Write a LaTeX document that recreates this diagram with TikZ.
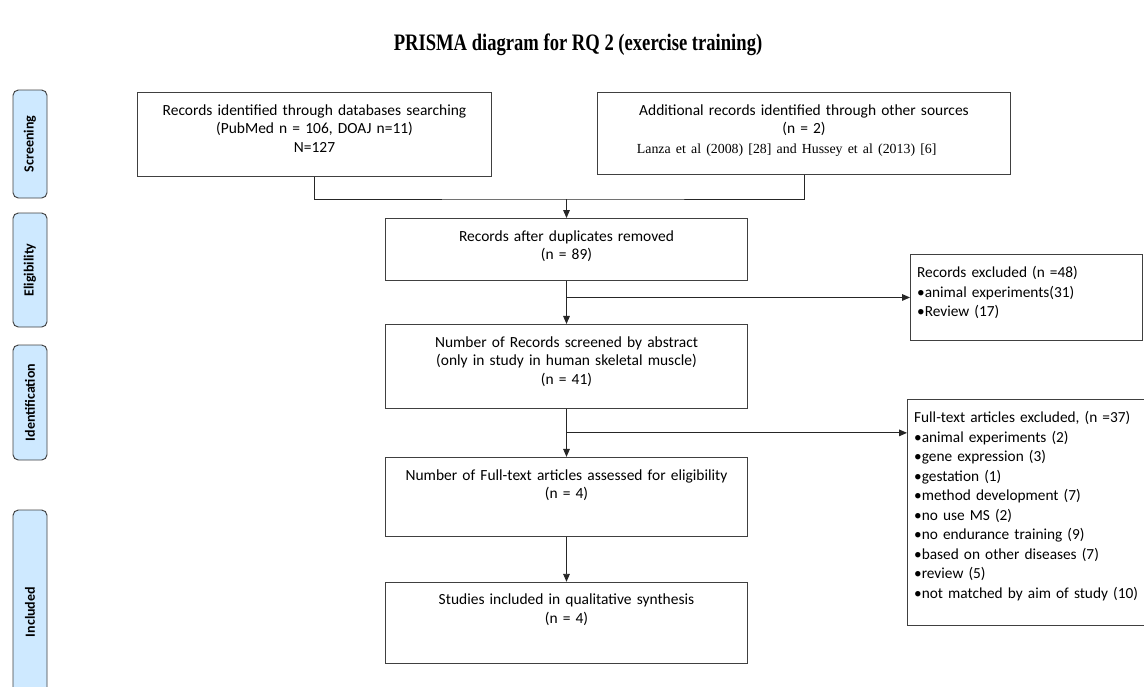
\documentclass[tikz,border=0pt]{standalone}
\usepackage{fontspec}
\setmainfont{Carlito}
\newfontfamily\serifpart{Liberation Serif}
\usetikzlibrary{arrows.meta,calc,positioning}

\definecolor{phaseblue}{RGB}{206,233,255}

\tikzset{
  flowbox/.style={draw=black!75, line width=0.7pt, text width=#1, align=center,
    inner xsep=0pt, inner ysep=0pt, text height=17pt,
    font=\fontsize{11.6}{14}\selectfont},
  exclbox/.style={draw=black!75, line width=0.7pt, text width=#1, align=left,
    inner xsep=5pt, inner ysep=0pt, text height=17.5pt,
    font=\fontsize{11.5}{14.6}\selectfont},
  phase/.style={draw=black!75, line width=0.7pt, fill=phaseblue, rounded corners=4pt,
    rotate=90, minimum height=25.5pt, inner sep=0pt,
    font=\fontsize{10.5}{12}\selectfont\bfseries},
  flow/.style={line width=0.7pt, draw=black!85},
}

\begin{document}
\begin{tikzpicture}[x=0.75pt,y=-0.75pt,>={Triangle[length=6pt,width=5pt]}]
    \useasboundingbox (0,0) rectangle (1144,686);

    \node[xscale=0.93, yscale=1.18, transform shape] (title) at (578,45)
      {\serifpart\bfseries\fontsize{15}{17}\selectfont PRISMA diagram for RQ 2 (exercise training)};

    % phases on the left
    \node[phase, minimum width=81pt] (screen) at (30,144) {Screening};
    \node[phase, minimum width=85.5pt] (elig) at (30,270) {Eligibility};
    \node[phase, minimum width=86.25pt] (ident) at (30,402.5) {Identification};
    \node[phase, minimum width=153pt] (incl) at (30,612) {Included};

    % top row
    \node[flowbox=266pt, text depth=46pt, anchor=north] (dbrec) at (314.5,92)
      {Records identified through databases searching\\(PubMed n = 106, DOAJ n=11)\\N=127};
    \node[flowbox=310pt, text depth=44.5pt, anchor=north] (otherrec) at (804,92)
      {Additional records identified through other sources\\(n = 2)\\[1pt]
       {\serifpart\fontsize{10.4}{12}\selectfont Lanza et al (2008) [28] and Hussey et al (2013) [6]\kern26pt}};

    % main column
    \node[flowbox=272pt, text depth=29.5pt, anchor=north] (dedup) at (566.5,218)
      {Records after duplicates removed\\(n = 89)};
    \node[flowbox=272pt, text depth=46pt, below=32.25pt of dedup] (abstr)
      {Number of Records screened by abstract\\(only in study in human skeletal muscle)\\(n = 41)};
    \node[flowbox=272pt, text depth=42.25pt, below=36pt of abstr] (fulltext)
      {Number of Full-text articles assessed for eligibility\\(n = 4)};
    \node[flowbox=272pt, text depth=43.75pt, below=33.75pt of fulltext] (included)
      {Studies included in qualitative synthesis\\(n = 4)};

    % exclusions
    \node[exclbox=164pt, text depth=47pt, anchor=north west] (excl1) at (910,254)
      {Records excluded (n =48)\\\textbullet animal experiments(31)\\\textbullet Review (17)};
    \node[exclbox=168pt, text depth=152pt, anchor=north west] (excl2) at (907,399)
      {Full-text articles excluded, (n =37)\\
       \textbullet animal experiments (2)\\
       \textbullet gene expression (3)\\
       \textbullet gestation (1)\\
       \textbullet method development (7)\\
       \textbullet no use MS (2)\\
       \textbullet no endurance training (9)\\
       \textbullet based on other diseases (7)\\
       \textbullet review (5)\\
       \textbullet not matched by aim of study (10)};

    % connectors
    \coordinate (join) at (566.5,199);
    \coordinate (split2) at ($(abstr.south)!0.5!(fulltext.north)$);
    \draw[flow] (dbrec.south) |- (join) -| (otherrec.south);
    \draw[flow,->] (join) -- (dedup);
    \draw[flow,->] (dedup) -- (abstr);
    \draw[flow,->] (abstr) -- (fulltext);
    \draw[flow,->] (fulltext) -- (included);
    \draw[flow,->] (dedup.south |- excl1.west) -- (excl1.west);
    \draw[flow,->] (split2) -- (split2 -| excl2.west);
\end{tikzpicture}
\end{document}
